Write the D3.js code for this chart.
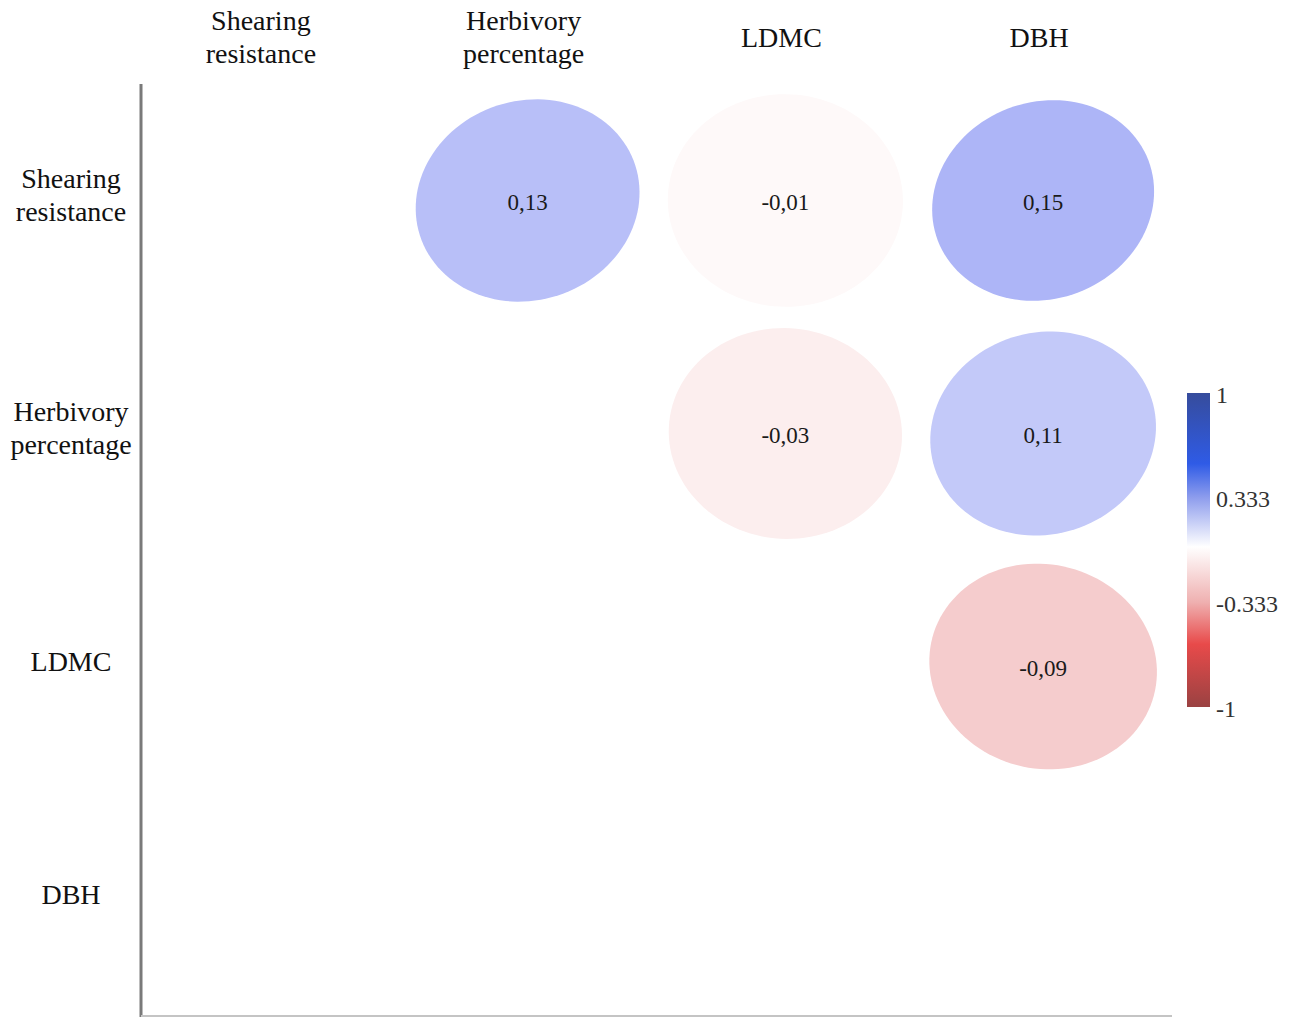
<!DOCTYPE html>
<html>
<head>
<meta charset="utf-8">
<script src="https://cdn.jsdelivr.net/npm/d3@7"></script>
<style>
    body { margin: 0; background: #fff; }
    text { font-family: "Liberation Serif", "DejaVu Serif", serif; fill: #111; }
</style>
</head>
<body>
<svg id="drawing_region"></svg>
<script>
// variables of the correlation matrix
const variables = [ "Shearing resistance", "Herbivory percentage", "LDMC", "DBH" ];
const header_lines = [ [ "Shearing", "resistance" ], [ "Herbivory", "percentage" ], [ "LDMC" ], [ "DBH" ] ];

// upper triangle cells: row variable, column variable, correlation
const cell_rows = [ 0, 0, 0, 1, 1, 2 ];
const cell_cols = [ 1, 2, 3, 2, 3, 3 ];
const cell_values = [ 0.13, -0.01, 0.15, -0.03, 0.11, -0.09 ];

// colour legend
const legend_ticks = [ 1, 0.333, -0.333, -1 ];
const legend_labels = [ "1", "0.333", "-0.333", "-1" ];

const config = {
    parent: '#drawing_region',
    width: 1291,
    height: 1017,
    margin: { top:84, right:119, bottom:1, left:141 }
};

const svg = d3.select( config.parent )
    .attr( 'width', config.width )
    .attr( 'height', config.height );

const inner_width = config.width - config.margin.left - config.margin.right;
const inner_height = config.height - config.margin.top - config.margin.bottom;

const chart = svg.append( 'g' )
    .attr( 'transform', `translate(${config.margin.left}, ${config.margin.top})` );

const xscale = d3.scaleBand().domain( d3.range( variables.length ) ).range( [ 0, inner_width ] );
const yscale = d3.scaleBand().domain( d3.range( variables.length ) ).range( [ 0, inner_height ] );

const fill = d3.scaleLinear()
    .domain( [ -1, -0.333, 0, 0.333, 1 ] )
    .range( [ "#8a2a2a", "rgb(218,66,70)", "#ffffff", "rgb(73,91,237)", "#23338f" ] );

const fmt = d3.formatLocale( { decimal: ",", thousands: ".", grouping: [3], currency: [ "", "" ], minus: "-" } ).format( ".2f" );

// ellipses (corrplot style, drawn in unit cell then stretched to cell size)
const cells = cell_values.map( ( v, i ) => ( { r: cell_rows[i], c: cell_cols[i], v: v } ) );
const line = d3.line().curve( d3.curveLinearClosed );

function ellipse_path( d ) {
    const sx = xscale.bandwidth(), sy = yscale.bandwidth();
    const cx = xscale( d.c ) + sx / 2, cy = yscale( d.r ) + sy / 2;
    const R = 0.458 * ( 1 - 0.4 * Math.abs( d.v ) );
    const delta = Math.acos( d.v * 0.6 );
    const pts = d3.range( 120 ).map( k => {
        const t = k / 120 * 2 * Math.PI;
        return [ cx + R * Math.cos( t + delta / 2 ) * sx, cy - R * Math.cos( t - delta / 2 ) * sy ];
    } );
    return line( pts );
}

chart.selectAll( 'path.cell' )
    .data( cells )
    .enter()
    .append( 'path' )
    .attr( 'class', 'cell' )
    .attr( 'd', ellipse_path )
    .attr( 'fill', d => fill( d.v ) );

chart.selectAll( 'text.value' )
    .data( cells )
    .enter()
    .append( 'text' )
    .attr( 'class', 'value' )
    .attr( 'x', d => xscale( d.c ) + xscale.bandwidth() / 2 )
    .attr( 'y', d => yscale( d.r ) + yscale.bandwidth() / 2 + 4 )
    .attr( 'text-anchor', 'middle' )
    .attr( 'dominant-baseline', 'middle' )
    .attr( 'font-size', 23 )
    .style( 'fill', '#1a1a1a' )
    .text( d => fmt( d.v ) );

// axis lines
chart.append( 'line' )
    .attr( 'x1', 0 ).attr( 'x2', 0 )
    .attr( 'y1', 0 ).attr( 'y2', inner_height + 1 )
    .attr( 'stroke', '#7a7a7a' ).attr( 'stroke-width', 3 );

chart.append( 'line' )
    .attr( 'x1', 0 ).attr( 'x2', inner_width )
    .attr( 'y1', inner_height ).attr( 'y2', inner_height )
    .attr( 'stroke', '#c4c4c4' ).attr( 'stroke-width', 2 );

// column headers
const headers = svg.selectAll( 'text.header' )
    .data( header_lines )
    .enter()
    .append( 'text' )
    .attr( 'class', 'header' )
    .attr( 'text-anchor', 'middle' )
    .attr( 'font-size', 28 )
    .attr( 'transform', ( d, i ) => `translate(${config.margin.left + xscale( i ) + xscale.bandwidth() / 2 - 4 - ( i === 0 ? 5 : 0 )}, 0)` );

headers.selectAll( 'tspan' )
    .data( d => d.map( ( s, j ) => ( { s: s, j: j, n: d.length } ) ) )
    .enter()
    .append( 'tspan' )
    .attr( 'x', 0 )
    .attr( 'y', d => d.n === 1 ? 47 : 30 + d.j * 33 )
    .text( d => d.s );

// row labels
const rows = svg.selectAll( 'text.rowlab' )
    .data( header_lines )
    .enter()
    .append( 'text' )
    .attr( 'class', 'rowlab' )
    .attr( 'text-anchor', 'middle' )
    .attr( 'font-size', 28 )
    .attr( 'transform', ( d, i ) => `translate(71, ${config.margin.top + yscale( i ) + yscale.bandwidth() / 2})` );

rows.selectAll( 'tspan' )
    .data( d => d.map( ( s, j ) => ( { s: s, j: j, n: d.length } ) ) )
    .enter()
    .append( 'tspan' )
    .attr( 'x', 0 )
    .attr( 'y', d => d.n === 1 ? 4 : -13 + d.j * 33 )
    .text( d => d.s );

// colour legend
const legend_stops = [ 1, 0.55, 0.333, 0.02, -0.333, -0.6, -1 ];
const legend_colors = [ "#364c9c", "#2f5be6", "#8e9ded", "#ffffff", "#efb0b0", "#e84a4a", "#9a4242" ];

const lscale = d3.scaleLinear().domain( [ 1, -1 ] ).range( [ 393, 707 ] );

const grad = svg.append( 'defs' ).append( 'linearGradient' )
    .attr( 'id', 'legend_grad' )
    .attr( 'x1', 0 ).attr( 'x2', 0 ).attr( 'y1', 0 ).attr( 'y2', 1 );

grad.selectAll( 'stop' )
    .data( legend_stops )
    .enter()
    .append( 'stop' )
    .attr( 'offset', d => ( 1 - d ) / 2 )
    .attr( 'stop-color', ( d, i ) => legend_colors[i] );

svg.append( 'rect' )
    .attr( 'x', 1187 )
    .attr( 'y', lscale( 1 ) )
    .attr( 'width', 23 )
    .attr( 'height', lscale( -1 ) - lscale( 1 ) )
    .attr( 'fill', 'url(#legend_grad)' );

svg.selectAll( 'text.legend' )
    .data( legend_ticks )
    .enter()
    .append( 'text' )
    .attr( 'class', 'legend' )
    .attr( 'x', 1216 )
    .attr( 'y', d => lscale( d ) + 4 )
    .attr( 'dominant-baseline', 'middle' )
    .attr( 'font-size', 24 )
    .style( 'fill', '#333' )
    .text( ( d, i ) => legend_labels[i] );
</script>
</body>
</html>
